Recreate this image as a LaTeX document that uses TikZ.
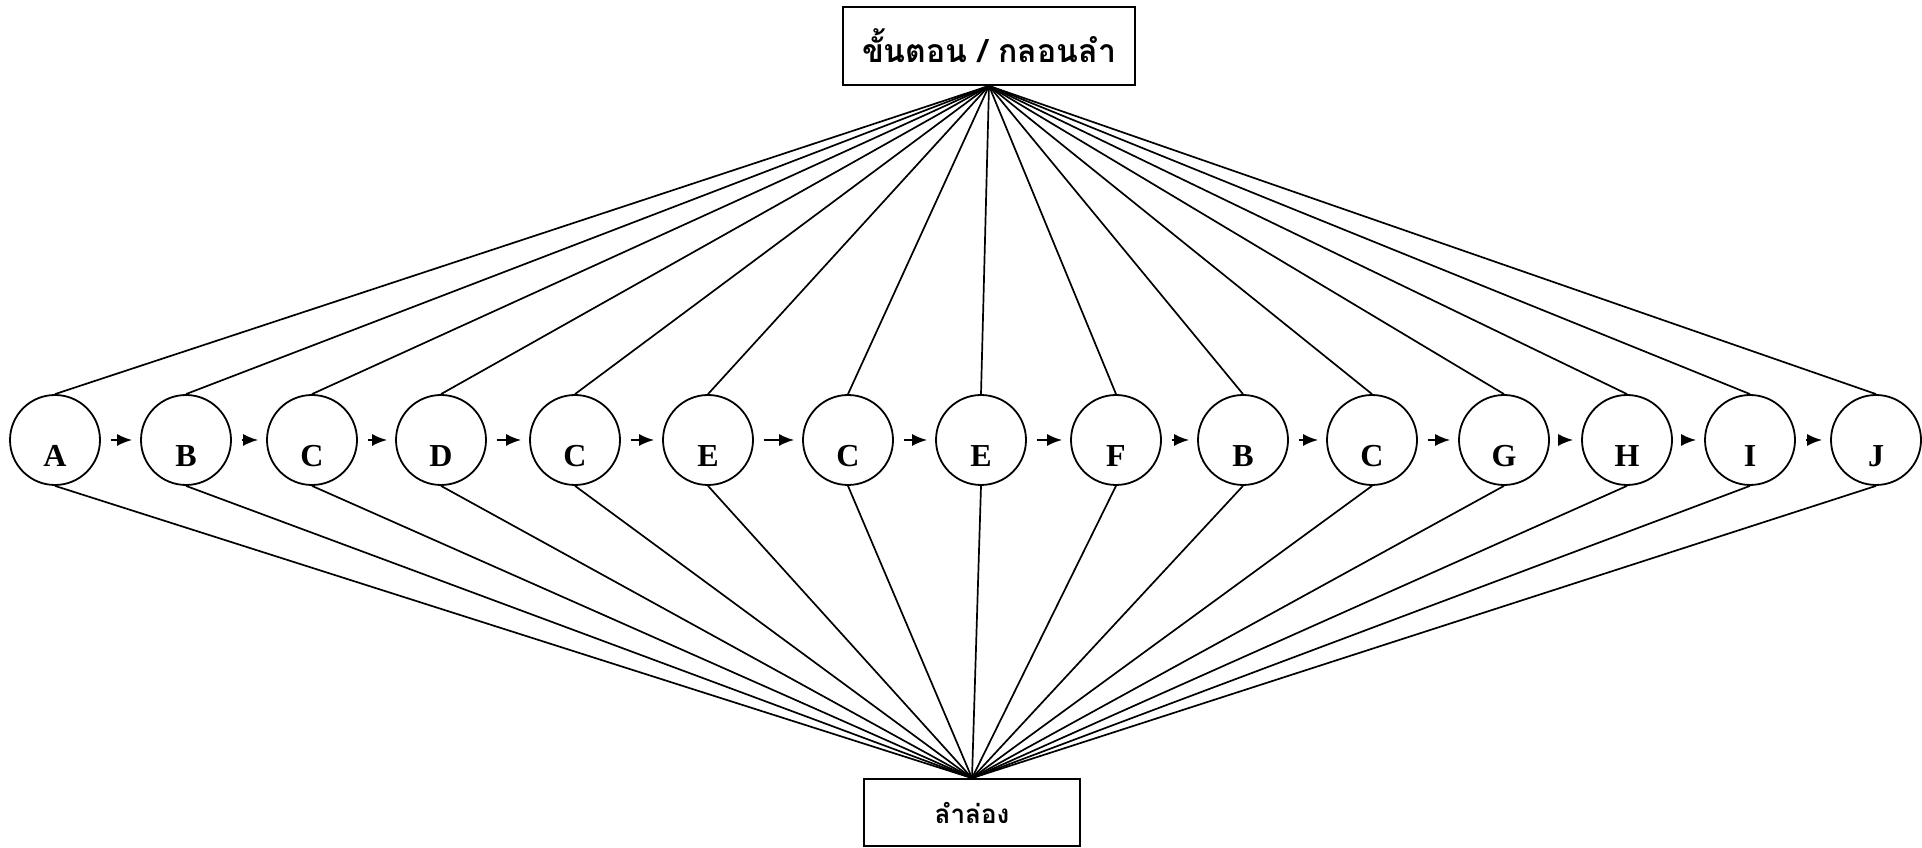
\documentclass[tikz,border=0pt]{standalone}
\usepackage{fontspec}
\setmainfont{Liberation Serif}
\newfontfamily\thaifont[Script=Thai]{Loma}
\usetikzlibrary{arrows.meta}
\begin{document}
\begin{tikzpicture}[x=1pt,y=1pt,
  stage/.style={circle,draw,line width=1.8pt,minimum size=90pt,inner sep=0pt,
    text height=53pt,text depth=0pt,font=\fontsize{32}{32}\selectfont\bfseries},
  titlebox/.style={draw,line width=1.8pt,inner sep=0pt},
  link/.style={line width=1.7pt},
  flow/.style={-{Latex[length=15pt,width=12pt]},line width=1.8pt,shorten <=10pt,shorten >=8pt}]
\useasboundingbox (0,0) rectangle (1922,848);
% the two boxes
\node[titlebox,minimum width=292pt,minimum height=78pt,
  font=\thaifont\bfseries\fontsize{32}{32}\selectfont] (top) at (989,802) {ขั้นตอน / กลอนลำ};
\node[titlebox,minimum width=216pt,minimum height=67pt,
  font=\thaifont\bfseries\fontsize{26}{26}\selectfont] (bot) at (972,35.5) {ลำล่อง};
% the stages and their lines to the boxes
\foreach \x/\t [count=\i] in {55/A,186/B,312/C,441/D,575/C,708/E,848/C,981/E,
    1116/F,1243/B,1372/C,1504/G,1627/H,1750/I,1876/J}{
  \node[stage] (s\i) at (\x,408) {\t};
  \draw[link] (top.south) -- (s\i.north);
  \draw[link] (s\i.south) -- (bot.north);
}
% arrows from stage to stage
\foreach \i [remember=\i as \j (initially 1)] in {2,...,15}
  \draw[flow] (s\j.east) -- (s\i.west);
\end{tikzpicture}
\end{document}
